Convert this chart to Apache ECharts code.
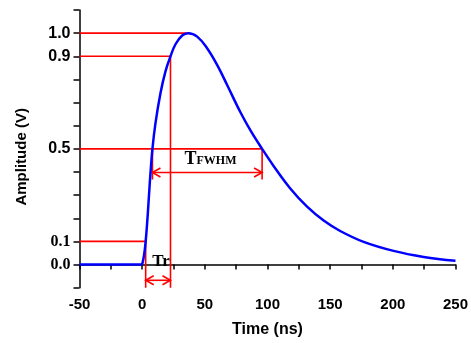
<!DOCTYPE html>
<html>
<head>
<meta charset="utf-8">
<script src="https://cdn.jsdelivr.net/npm/echarts@6/dist/echarts.min.js"></script>
<style>html,body{margin:0;padding:0;background:#fff;}#c{width:471px;height:343px;}</style>
</head>
<body>
<div id="c"></div>
<script>
// Pulse waveform: flat baseline, then the pulse
const baselineTime = [-50, 0];
const baselineAmp = [0, 0];
const pulseTime = [0, 1.5, 2.8, 4.5, 6.3, 8.2, 10.6, 14.6, 18.6, 22.6, 26.6, 31.9, 36.8, 43.9, 51.8, 59.8, 67.8, 78.4, 86.4, 95.7, 105, 118, 131.6, 144.8, 158, 176.7, 200.6, 224.6, 250];
const pulseAmp = [0, 0.04, 0.1, 0.22, 0.37, 0.5, 0.61, 0.74, 0.835, 0.9, 0.952, 0.99, 1.0, 0.985, 0.935, 0.863, 0.776, 0.658, 0.58, 0.5, 0.425, 0.33, 0.25, 0.19, 0.145, 0.098, 0.059, 0.033, 0.016];

// Axis ticks / labels
const xTickValues = [-50, 0, 50, 100, 150, 200, 250];
const ySansLabels = [0.5, 0.9, 1.0];
const ySerifLabels = [0.0, 0.1];

// Annotation levels and times
const levels = { peak: 1.0, p90: 0.9, p50: 0.5, p10: 0.1 };
const times = { peak: 36.8, t90: 22.6, t10: 2.8, t50Rise: 8.2, t50Fall: 95.7 };
const fwhmArrowLevel = 0.398;
const fwhmTickBottom = 0.368;
const trArrowLevel = -0.068;
const fwhmLabelPos = [54.5, 0.416];
const trLabelPos = [15, 0.012];

const X_MIN = -50, X_MAX = 250, Y_MIN = -0.1, Y_MAX = 1.1;
const RED = '#ff0000';
const BLUE = '#0000ff';

const segments = [
  [[X_MIN, levels.peak], [times.peak, levels.peak]],
  [[X_MIN, levels.p90], [times.t90, levels.p90]],
  [[times.t90, levels.p90], [times.t90, Y_MIN]],
  [[X_MIN, levels.p50], [times.t50Fall, levels.p50]],
  [[times.t50Rise, levels.p50], [times.t50Rise, fwhmTickBottom]],
  [[times.t50Fall, levels.p50], [times.t50Fall, fwhmTickBottom]],
  [[X_MIN, levels.p10], [times.t10, levels.p10]],
  [[times.t10, levels.p10], [times.t10, Y_MIN]]
];

const baseline = baselineTime.map((t, i) => [t, baselineAmp[i]]);
const pulse = pulseTime.map((t, i) => [t, pulseAmp[i]]);

const SANS = 'Liberation Sans';
const SERIF = 'Liberation Serif';

const pickLabel = list => v => {
  const k = Math.round(v * 10) / 10;
  return list.indexOf(k) >= 0 ? k.toFixed(1) : '';
};

const segSeries = segments.map(s => ({
  type: 'line', data: s, symbol: 'none', silent: true, z: 3,
  lineStyle: { color: RED, width: 1.6 }
}));

const chart = echarts.init(document.getElementById('c'));
chart.setOption({
  animation: false,
  grid: { left: 79.5, right: 15.3, top: 10, bottom: 55.3, containLabel: false },
  xAxis: {
    type: 'value', min: X_MIN, max: X_MAX, interval: 25,
    name: 'Time (ns)', nameLocation: 'middle', nameGap: 34,
    nameTextStyle: { fontFamily: SANS, fontWeight: 'bold', fontSize: 16, color: '#000' },
    axisLine: { show: true, lineStyle: { color: '#000', width: 1.5 } },
    axisTick: { show: true, length: 5, inside: false, lineStyle: { color: '#000', width: 1.5 } },
    splitLine: { show: false },
    axisLabel: {
      margin: 10, color: '#000', fontFamily: SANS, fontWeight: 'bold', fontSize: 15,
      formatter: v => xTickValues.indexOf(Math.round(v)) >= 0 ? String(Math.round(v)) : ''
    }
  },
  yAxis: [
    {
      type: 'value', min: Y_MIN, max: Y_MAX, interval: 0.1, position: 'left',
      axisLine: { show: false }, axisTick: { show: false }, splitLine: { show: false },
      axisLabel: { margin: 9, color: '#000', fontFamily: SERIF, fontWeight: 'bold', fontSize: 16, formatter: pickLabel(ySerifLabels) }
    },
    {
      type: 'value', min: Y_MIN, max: Y_MAX, interval: 0.1, position: 'left',
      name: 'Amplitude (V)', nameLocation: 'middle', nameGap: 50,
      nameTextStyle: { fontFamily: SANS, fontWeight: 'bold', fontSize: 15, color: '#000', padding: [0, 16, 0, 0] },
      axisLine: { show: true, lineStyle: { color: '#000', width: 1.5 } },
      axisTick: { show: true, length: 6, inside: false, lineStyle: { color: '#000', width: 1.5 } },
      splitLine: { show: false },
      axisLabel: { margin: 9, color: '#000', fontFamily: SANS, fontWeight: 'bold', fontSize: 16, formatter: pickLabel(ySansLabels) }
    }
  ],
  series: [
    ...segSeries,
    {
      type: 'custom', z: 4, silent: true,
      data: [[times.t50Rise, times.t50Fall, fwhmArrowLevel], [times.t10, times.t90, trArrowLevel]],
      encode: { x: [0, 1], y: 2 },
      renderItem: (params, api) => {
        const p1 = api.coord([api.value(0), api.value(2)]);
        const p2 = api.coord([api.value(1), api.value(2)]);
        const L = 8, H = 4.5;
        const st = { stroke: RED, lineWidth: 1.6, fill: null };
        return {
          type: 'group', children: [
            { type: 'line', shape: { x1: p1[0], y1: p1[1], x2: p2[0], y2: p2[1] }, style: st },
            { type: 'polyline', shape: { points: [[p1[0] + L, p1[1] - H], [p1[0], p1[1]], [p1[0] + L, p1[1] + H]] }, style: st },
            { type: 'polyline', shape: { points: [[p2[0] - L, p2[1] - H], [p2[0], p2[1]], [p2[0] - L, p2[1] + H]] }, style: st }
          ]
        };
      }
    },
    {
      type: 'custom', z: 5, silent: true,
      data: [[fwhmLabelPos[0], fwhmLabelPos[1], 0], [trLabelPos[0], trLabelPos[1], 1]],
      encode: { x: 0, y: 1 },
      renderItem: (params, api) => {
        const p = api.coord([api.value(0), api.value(1)]);
        const which = api.value(2);
        if (which === 0) {
          return {
            type: 'text', x: p[0], y: p[1],
            style: {
              text: '{a|T}{b|FWHM}', align: 'center', verticalAlign: 'bottom',
              rich: {
                a: { fontFamily: SERIF, fontWeight: 'bold', fontSize: 18, lineHeight: 18, verticalAlign: 'bottom', fill: '#000' },
                b: { fontFamily: SERIF, fontWeight: 'bold', fontSize: 12, lineHeight: 18, verticalAlign: 'bottom', fill: '#000', padding: [0, 0, 1, 0] }
              }
            }
          };
        }
        return {
          type: 'text', x: p[0], y: p[1],
          style: { text: 'Tr', align: 'center', verticalAlign: 'middle', fontFamily: SERIF, fontWeight: 'bold', fontSize: 17, fill: '#000' }
        };
      }
    },
    {
      type: 'line', data: baseline, symbol: 'none', z: 6, silent: true,
      lineStyle: { color: BLUE, width: 2.5 }
    },
    {
      type: 'line', data: pulse, symbol: 'none', smooth: 0.4, z: 6, silent: true,
      lineStyle: { color: BLUE, width: 2.5 }
    }
  ]
});
</script>
</body>
</html>
